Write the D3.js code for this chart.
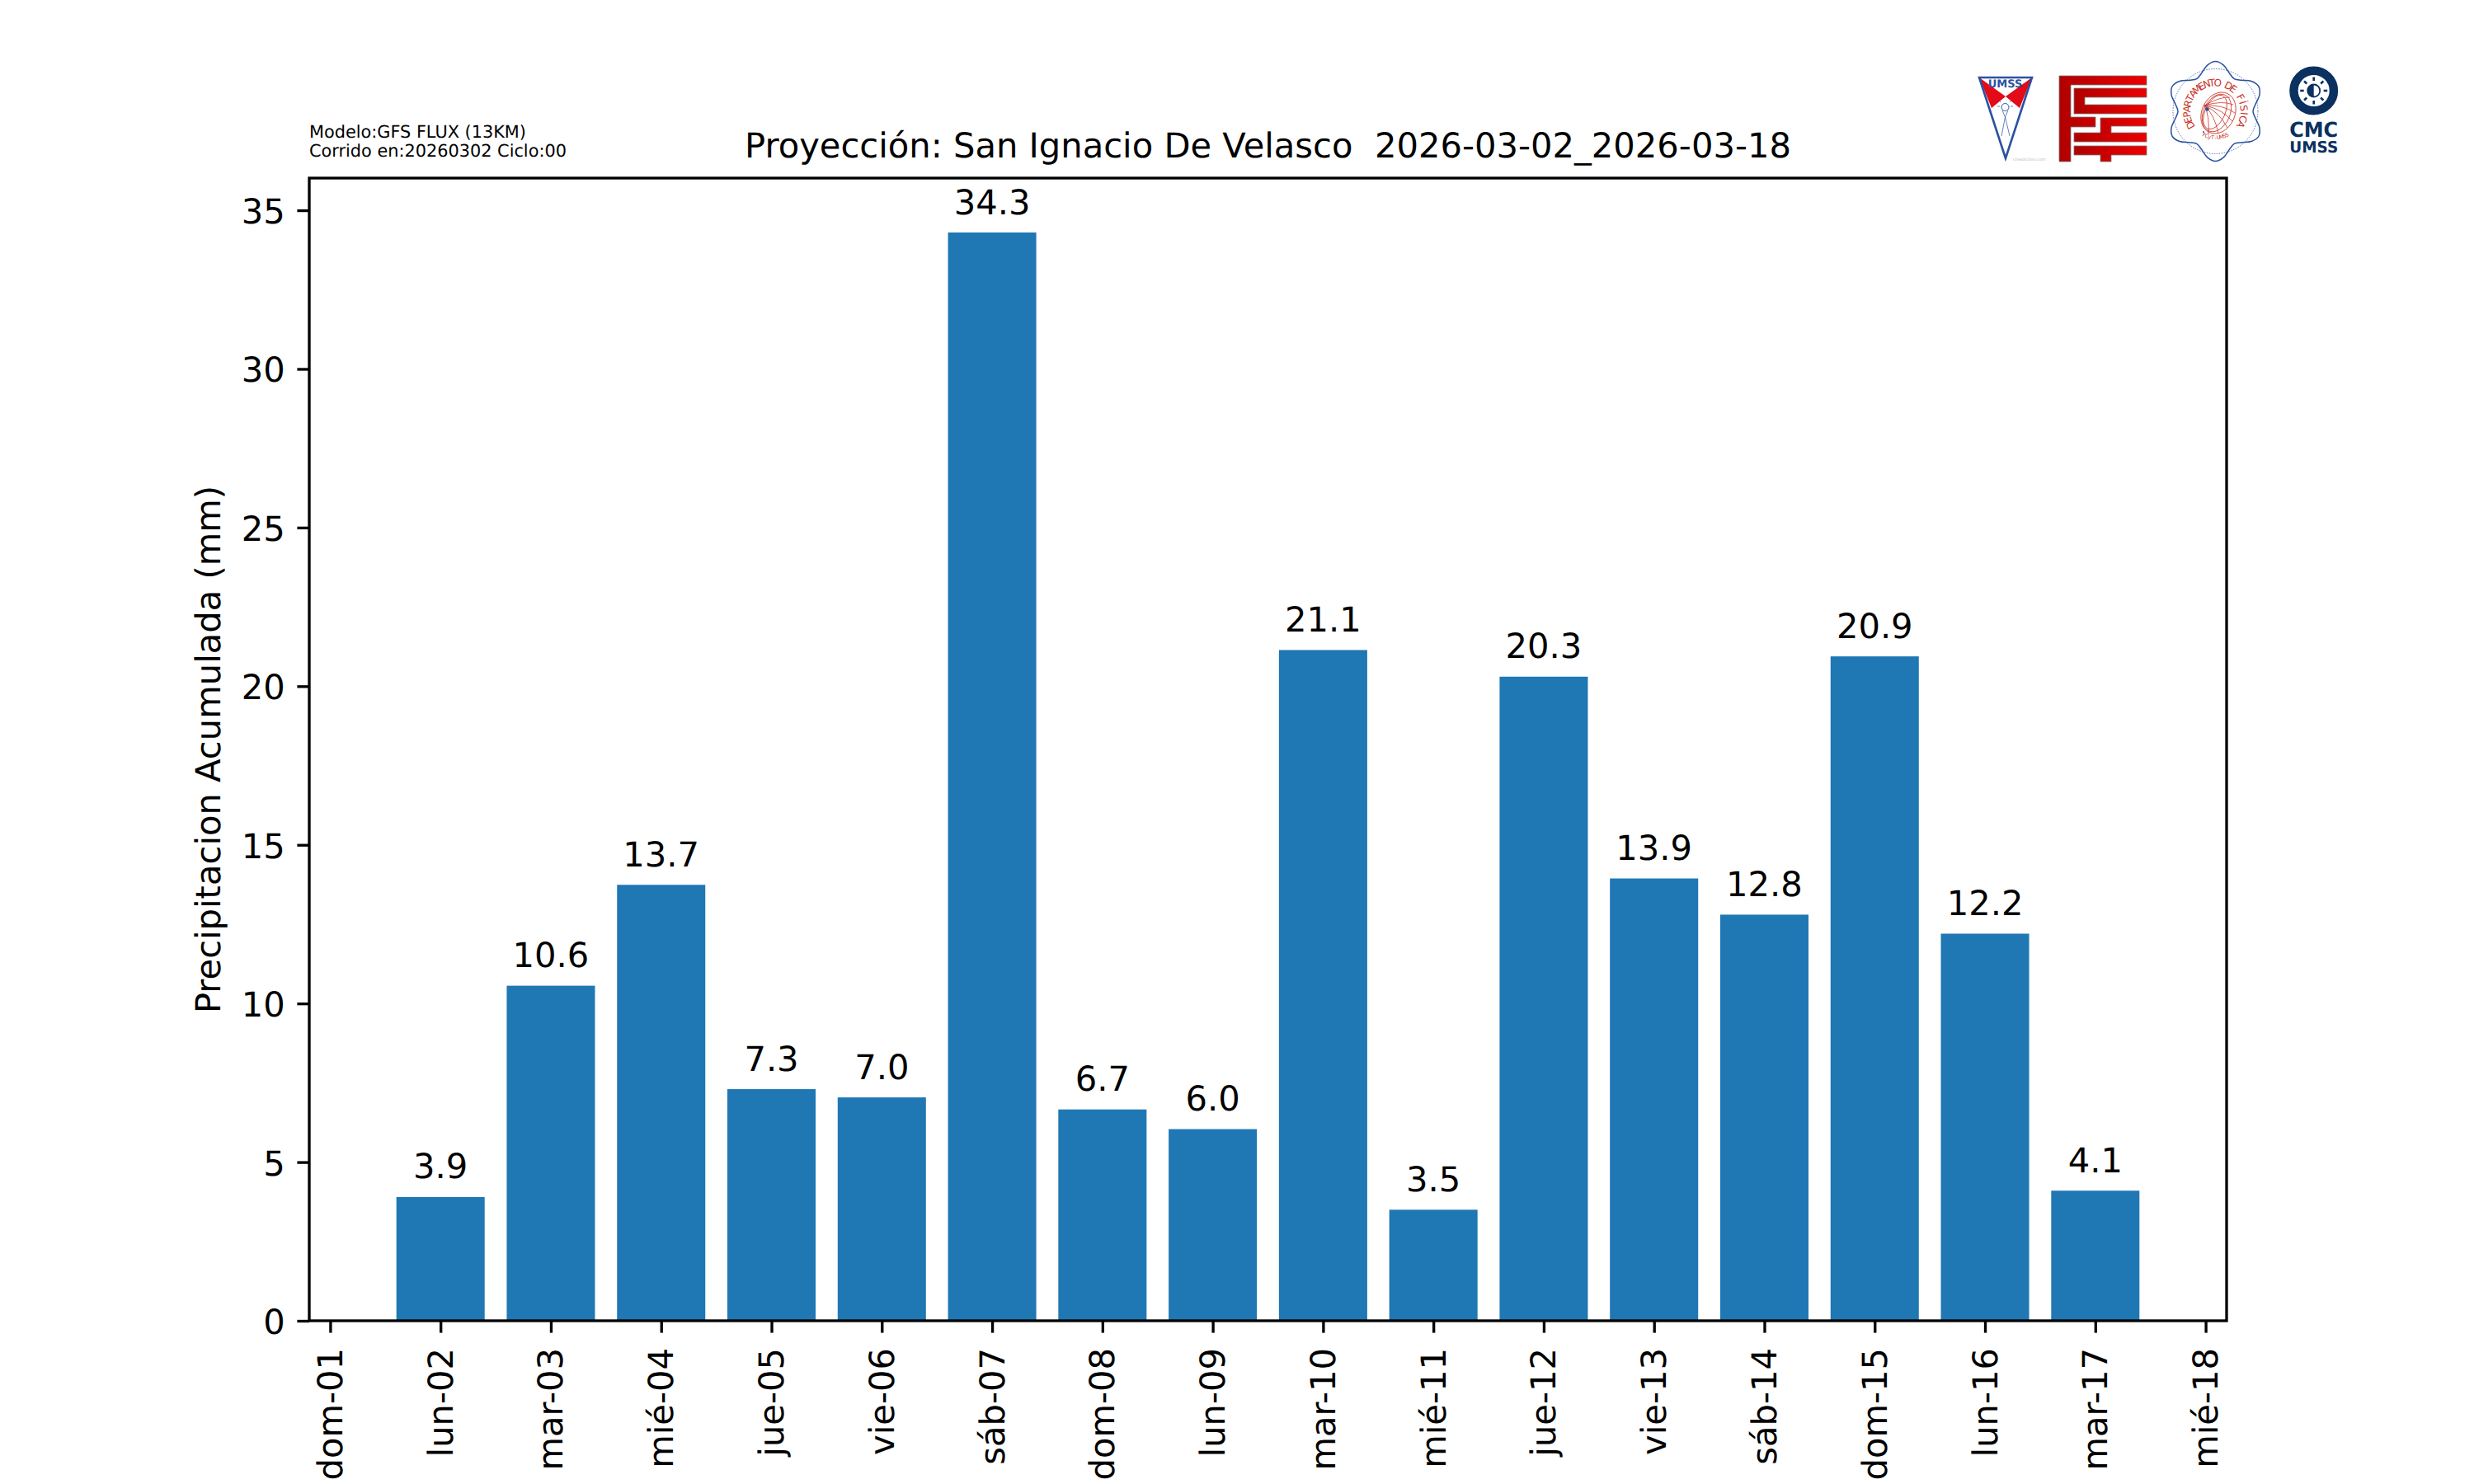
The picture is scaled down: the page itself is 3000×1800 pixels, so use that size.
<!DOCTYPE html>
<html><head><meta charset="utf-8">
<style>html,body{margin:0;padding:0;background:#fff}svg{display:block}text{font-family:"DejaVu Sans";fill:#000;white-space:pre;text-rendering:geometricPrecision}</style>
<script src="https://cdn.jsdelivr.net/npm/d3@7/dist/d3.min.js"></script></head><body>
<script>
const tickDays=[1,2,3,4,5,6,7,8,9,10,11,12,13,14,15,16,17,18];
const tickLabels=["dom-01","lun-02","mar-03","mié-04","jue-05","vie-06","sáb-07","dom-08","lun-09","mar-10","mié-11","jue-12","vie-13","sáb-14","dom-15","lun-16","mar-17","mié-18"];
const barDays=[2,3,4,5,6,7,8,9,10,11,12,13,14,15,16,17];
const barValues=[3.9,10.56,13.74,7.3,7.04,34.3,6.66,6.04,21.14,3.5,20.3,13.94,12.8,20.94,12.2,4.1];
const yTicks=[0,5,10,15,20,25,30,35];
const titleText="Proyección: San Ignacio De Velasco  2026-03-02_2026-03-18";
const yLabel="Precipitacion Acumulada (mm)";
const modelLines=["Modelo:GFS FLUX (13KM)","Corrido en:20260302 Ciclo:00"];

const W=3000,H=1800,L=375,R=2700,T=216,B=1602,lw=3.33,tick=14.6,fs=41.67;
const svg=d3.select("body").append("svg").attr("width",W).attr("height",H).attr("viewBox",`0 0 ${W} ${H}`);
svg.append("rect").attr("width",W).attr("height",H).attr("fill","#fff");
const barW=0.8,lo=d3.min(barDays)-barW/2,hi=d3.max(barDays)+barW/2,m=(hi-lo)*0.05;
const x=d3.scaleLinear().domain([lo-m,hi+m]).range([L,R]);
const y=d3.scaleLinear().domain([0,d3.max(barValues)*1.05]).range([B,T]);

svg.append("g").selectAll("rect").data(barDays).join("rect")
 .attr("x",d=>x(d-barW/2)).attr("width",d=>x(d+barW/2)-x(d-barW/2))
 .attr("y",(d,i)=>y(barValues[i])).attr("height",(d,i)=>B-y(barValues[i])).attr("fill","#1f77b4");
svg.append("g").selectAll("text").data(barDays).join("text")
 .attr("x",d=>x(d)).attr("y",(d,i)=>y(barValues[i])-22.5).attr("text-anchor","middle").attr("font-size",fs)
 .text((d,i)=>barValues[i].toFixed(1));

const gx=svg.append("g").attr("transform",`translate(0,${B})`)
 .call(d3.axisBottom(x).tickValues(tickDays).tickSize(tick).tickSizeOuter(0).tickFormat((d,i)=>tickLabels[i]));
gx.select(".domain").remove();
gx.selectAll(".tick line").attr("stroke","#000").attr("stroke-width",lw);
gx.selectAll(".tick text").attr("font-family","DejaVu Sans").attr("font-size",fs).attr("fill","#000")
 .attr("text-anchor","end").attr("dy",null).attr("y",null).attr("x",null)
 .attr("transform","translate(14,33) rotate(-90)");
const gy=svg.append("g").attr("transform",`translate(${L},0)`)
 .call(d3.axisLeft(y).tickValues(yTicks).tickSize(tick).tickSizeOuter(0).tickFormat(d3.format("d")));
gy.select(".domain").remove();
gy.selectAll(".tick line").attr("stroke","#000").attr("stroke-width",lw);
gy.selectAll(".tick text").attr("font-family","DejaVu Sans").attr("font-size",fs).attr("fill","#000")
 .attr("x",-tick-14.6).attr("dy","0.37em").attr("text-anchor","end");

svg.append("rect").attr("x",L).attr("y",T).attr("width",R-L).attr("height",B-T).attr("fill","none").attr("stroke","#000").attr("stroke-width",lw);

svg.append("text").attr("x",(L+R)/2).attr("y",191).attr("text-anchor","middle").attr("font-size",41.67).text(titleText);
svg.append("text").attr("transform",`translate(267,${(T+B)/2}) rotate(-90)`).attr("text-anchor","middle").attr("font-size",fs).text(yLabel);
svg.append("g").selectAll("text").data(modelLines).join("text").attr("x",375).attr("y",(d,i)=>167+i*23).attr("font-size",20.83).text(d=>d);

// logos
const lg=svg.append("g");
// UMSS shield
const blue="#2a52a0",red="#e30b17";
lg.append("path").attr("d","M2400,94 L2464,94 L2432,192 Z").attr("fill","#fff");
lg.append("path").attr("d","M2400,94 L2432,117 L2464,94 L2449,131 L2432,117 L2415,131 Z").attr("fill",red);
lg.append("path").attr("d","M2400,94 L2464,94 L2432,192 Z").attr("fill","none").attr("stroke",blue).attr("stroke-width",2.6).attr("stroke-linejoin","miter");
lg.append("text").attr("x",2431.5).attr("y",106).attr("text-anchor","middle").attr("font-size",13).attr("font-weight","bold").attr("font-family","Liberation Sans").style("fill",blue).text("UMSS");
lg.append("circle").attr("cx",2431.5).attr("cy",130).attr("r",4.5).attr("fill","none").attr("stroke",blue).attr("stroke-width",1);
lg.append("path").attr("d","M2428,134 L2431.5,142 L2435,134 M2431.5,142 L2427,165 M2431.5,142 L2437,165 M2422,129 H2425 M2438,129 H2441 M2424,122 L2426,124 M2439,122 L2437,124").attr("fill","none").attr("stroke",blue).attr("stroke-width",0.9).attr("opacity",0.8);
lg.append("text").attr("x",2441).attr("y",195).attr("font-size",5).attr("font-family","Liberation Sans").style("fill","#bbb").text("creadictivo.com");
// FCyT logo
const defs=svg.append("defs");
const gr=defs.append("linearGradient").attr("id","fg").attr("x1",0).attr("x2",1).attr("y1",0).attr("y2",0);
gr.append("stop").attr("offset",0).attr("stop-color","#b00000");gr.append("stop").attr("offset",1).attr("stop-color","#ee0000");
const fg=lg.append("g").attr("fill","url(#fg)").attr("stroke","#777").attr("stroke-width",0.8);
fg.append("path").attr("d","M2497,92 H2603 V103 H2511 V142 H2541 V154 H2511 V196 H2497 Z");
fg.append("path").attr("d","M2515,107 H2603 V118 H2528 V127 H2603 V138 H2515 Z");
fg.append("path").attr("d","M2547,143 H2603 V153 H2560 V161 H2603 V172 H2515 V161 H2547 Z");
fg.append("path").attr("d","M2515,177 H2603 V188 H2560 V196 H2547 V188 H2515 Z");
// Physics seal
const cx=2686.5,cy=135,sealRed="#c8342a";
const wave=d3.lineRadial().curve(d3.curveCardinalClosed).angle(d=>d*Math.PI/180).radius(d=>53+7.5*Math.cos(d*6*Math.PI/180));
lg.append("path").attr("transform",`translate(${cx},${cy})`).attr("d",wave(d3.range(0,360,10))).attr("fill","none").attr("stroke",blue).attr("stroke-width",1.5);
lg.append("circle").attr("cx",cx).attr("cy",cy).attr("r",51.5).attr("fill","none").attr("stroke",blue).attr("stroke-width",0.8).attr("stroke-dasharray","1.5 1.5");
function arcLetters(str,a0,a1,r,size,flip){
  const chars=Array.from(str),n=chars.length;
  chars.forEach((c,i)=>{
    const a=a0+(a1-a0)*i/(n-1),rad=a*Math.PI/180;
    const px=cx+r*Math.sin(rad),py=cy-r*Math.cos(rad);
    lg.append("text").attr("text-anchor","middle").attr("font-size",size).attr("font-family","Liberation Serif").style("fill",sealRed)
      .attr("transform",`translate(${px.toFixed(2)},${py.toFixed(2)}) rotate(${(flip?a-180:a).toFixed(1)})`).text(c);
  });
}
arcLetters("DEPARTAMENTO DE FÍSICA",-119,117,30.5,12,false);
arcLetters("FCyT-UMSS",206,154,34,6.5,true);
const glob=lg.append("g").attr("fill","none").attr("stroke",sealRed).attr("stroke-width",0.8);
[[2690,137,20,26],[2688,137,16,24],[2686,136,12,22]].forEach(e=>glob.append("ellipse").attr("cx",e[0]).attr("cy",e[1]).attr("rx",e[2]).attr("ry",e[3]).attr("transform",`rotate(25 ${e[0]} ${e[1]})`));
[[2704,118],[2708,127],[2710,137],[2707,147],[2701,155],[2690,162],[2678,163]].forEach(p=>glob.append("path").attr("d",`M2673,128 Q${(2673+p[0])/2+4},${(128+p[1])/2-6} ${p[0]},${p[1]}`));
lg.append("circle").attr("cx",2676.5).attr("cy",132.5).attr("r",2.2).attr("fill",blue);
lg.append("circle").attr("cx",2672).attr("cy",160).attr("r",1).attr("fill",blue);
// CMC
const navy="#0b3160",mx=2805.7,my=110;
lg.append("circle").attr("cx",mx).attr("cy",my).attr("r",24.25).attr("fill","none").attr("stroke",navy).attr("stroke-width",10.5);
lg.append("circle").attr("cx",mx).attr("cy",my).attr("r",7.5).attr("fill","none").attr("stroke",navy).attr("stroke-width",1.8);
lg.append("path").attr("d",d3.arc()({innerRadius:0,outerRadius:7.5,startAngle:Math.PI,endAngle:2*Math.PI})).attr("transform",`translate(${mx},${my})`).attr("fill",navy);
d3.range(0,360,45).forEach(a=>lg.append("line").attr("x1",mx).attr("x2",mx).attr("y1",my-12).attr("y2",my-16.5).attr("transform",`rotate(${a} ${mx} ${my})`).attr("stroke",navy).attr("stroke-width",2.6));
lg.append("text").attr("x",mx).attr("y",166).attr("text-anchor","middle").attr("font-size",25).attr("font-weight","bold").attr("font-family","Open Sans").attr("textLength",59).attr("lengthAdjust","spacingAndGlyphs").style("fill",navy).text("CMC");
lg.append("text").attr("x",mx).attr("y",185).attr("text-anchor","middle").attr("font-size",19).attr("font-weight","bold").attr("font-family","Open Sans").attr("textLength",59).attr("lengthAdjust","spacingAndGlyphs").style("fill",navy).text("UMSS");
</script></body></html>
